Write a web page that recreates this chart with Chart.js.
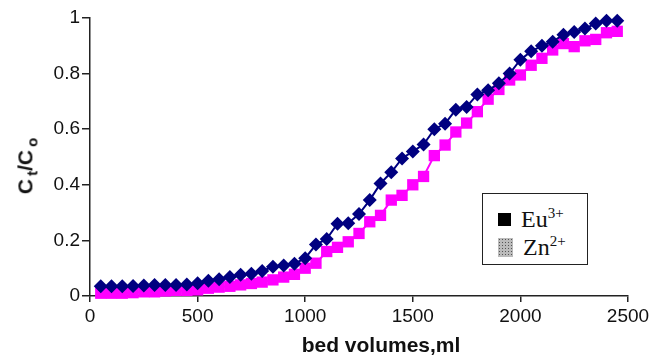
<!DOCTYPE html>
<html lang="en">
<head>
  <meta charset="UTF-8">
  <title>Breakthrough curves</title>
  <script src="https://cdn.jsdelivr.net/npm/chart.js@4.4.0/dist/chart.umd.min.js"></script>
  <style>
    body {
      margin: 0;
      padding: 0;
      background-color: #ffffff;
    }

    #wrap {
      position: relative;
      width: 669px;
      height: 361px;
    }

    #yTitle {
      position: absolute;
      left: 27px;
      top: 166px;
      transform: translate(-50%, -50%) rotate(-90deg);
      font: bold 21px "Liberation Sans", Arial, sans-serif;
      color: #111;
      white-space: nowrap;
    }

    #yTitle sub {
      font-size: 15px;
      margin-left: 3px;
    }

    #xTitle {
      position: absolute;
      left: 381px;
      top: 345px;
      transform: translate(-50%, -50%);
      font: bold 21px "Liberation Sans", Arial, sans-serif;
      color: #111;
      white-space: nowrap;
    }

    #legendBox {
      position: absolute;
      left: 482px;
      top: 193px;
      width: 104px;
      height: 70px;
      border: 1.5px solid #222;
      background: #fff;
      font-family: "Liberation Serif", "Times New Roman", serif;
      font-size: 24px;
      color: #111;
    }

    .row {
      position: absolute;
      left: 15px;
      display: flex;
      align-items: center;
    }

    .row sup {
      font-size: 15px;
      position: relative;
      top: -6px;
    }

    .swatch {
      display: inline-block;
      margin-right: 10px;
    }

    #euSwatch {
      width: 13px;
      height: 13px;
      background: #000;
    }

    #znSwatch {
      width: 15px;
      height: 19px;
      background-color: #bbb;
      background-image: radial-gradient(#555 40%, transparent 45%);
      background-size: 3px 3px;
    }
  </style>
</head>
<body>
  <div id="wrap">
    <canvas id="curveChart" width="669" height="361"></canvas>
    <div id="yTitle">C<sub>t</sub>/C<sub>o</sub></div>
    <div id="xTitle">bed volumes,ml</div>
    <div id="legendBox">
      <div class="row" style="top: 12px;"><span class="swatch" id="euSwatch"></span>Eu<sup>3+</sup></div>
      <div class="row" style="top: 40px;"><span class="swatch" id="znSwatch"></span>Zn<sup>2+</sup></div>
    </div>
  </div>

  <script>
    // bed volume (ml) of every sample
    const bedVolumes = [
      50, 100, 150, 200, 250, 300, 350, 400, 450, 500,
      550, 600, 650, 700, 750, 800, 850, 900, 950, 1000,
      1050, 1100, 1150, 1200, 1250, 1300, 1350, 1400, 1450, 1500,
      1550, 1600, 1650, 1700, 1750, 1800, 1850, 1900, 1950, 2000,
      2050, 2100, 2150, 2200, 2250, 2300, 2350, 2400, 2450
    ];

    // Ct/Co for Eu3+ (blue diamonds)
    const euValues = [
      0.035, 0.035, 0.035, 0.036, 0.038, 0.04, 0.04, 0.04, 0.041, 0.046,
      0.055, 0.06, 0.068, 0.076, 0.08, 0.09, 0.105, 0.11, 0.116, 0.136,
      0.185, 0.205, 0.26, 0.262, 0.295, 0.345, 0.405, 0.445, 0.495, 0.52,
      0.545, 0.6, 0.62, 0.67, 0.68, 0.725, 0.74, 0.765, 0.8, 0.85,
      0.88, 0.9, 0.915, 0.94, 0.95, 0.962, 0.98, 0.99, 0.99
    ];

    // Ct/Co for Zn2+ (magenta squares)
    const znValues = [
      0.01, 0.01, 0.01, 0.012, 0.015, 0.015, 0.018, 0.02, 0.02, 0.022,
      0.028, 0.032, 0.035, 0.04, 0.045, 0.05, 0.058, 0.068, 0.078, 0.1,
      0.118, 0.16, 0.175, 0.195, 0.225, 0.267, 0.29, 0.345, 0.362, 0.4,
      0.43, 0.505, 0.543, 0.59, 0.622, 0.663, 0.708, 0.743, 0.777, 0.795,
      0.83, 0.855, 0.885, 0.908, 0.897, 0.918, 0.923, 0.947, 0.952
    ];

    const xTicks = [0, 500, 1000, 1500, 2000, 2500];
    const yTicks = [0, 0.2, 0.4, 0.6, 0.8, 1];

    function toPoints(values) {
      return bedVolumes.map((v, i) => ({ x: v, y: values[i] }));
    }

    const ctx = document.getElementById('curveChart').getContext('2d');

    new Chart(ctx, {
      type: 'line',
      data: {
        datasets: [{
          label: 'Eu3+',
          data: toPoints(euValues),
          borderColor: '#000080',
          backgroundColor: '#000080',
          borderWidth: 2,
          pointStyle: 'rectRot',
          pointRadius: 7,
          pointBorderWidth: 0,
          clip: false,
          fill: false
        }, {
          label: 'Zn2+',
          data: toPoints(znValues),
          borderColor: '#ff00ff',
          backgroundColor: '#ff00ff',
          borderWidth: 2,
          pointStyle: 'rect',
          pointRadius: 8,
          pointBorderWidth: 0,
          clip: false,
          fill: false
        }]
      },
      options: {
        responsive: false,
        animation: false,
        layout: {
          padding: { left: 0, right: 41, top: 18, bottom: 0 }
        },
        plugins: {
          legend: { display: false },
          tooltip: { enabled: false }
        },
        scales: {
          x: {
            type: 'linear',
            min: 0,
            max: 2500,
            afterBuildTicks: (scale) => {
              scale.ticks = xTicks.map(v => ({ value: v }));
            },
            afterFit: (scale) => {
              scale.height = 65;
            },
            grid: {
              drawOnChartArea: false,
              color: '#222',
              tickLength: 6,
              lineWidth: 1.5
            },
            border: { color: '#222', width: 1.5 },
            ticks: {
              padding: 3,
              color: '#111',
              font: { family: '"Liberation Sans", Arial, sans-serif', size: 19 },
              callback: (v) => String(v)
            }
          },
          y: {
            min: 0,
            max: 1,
            afterBuildTicks: (scale) => {
              scale.ticks = yTicks.map(v => ({ value: v }));
            },
            afterFit: (scale) => {
              scale.width = 90;
            },
            grid: {
              drawOnChartArea: false,
              color: '#222',
              tickLength: 8,
              lineWidth: 1.5
            },
            border: { color: '#222', width: 1.5 },
            ticks: {
              padding: 2,
              color: '#111',
              font: { family: '"Liberation Sans", Arial, sans-serif', size: 19 },
              callback: (v) => String(v)
            }
          }
        }
      }
    });
  </script>
</body>
</html>
